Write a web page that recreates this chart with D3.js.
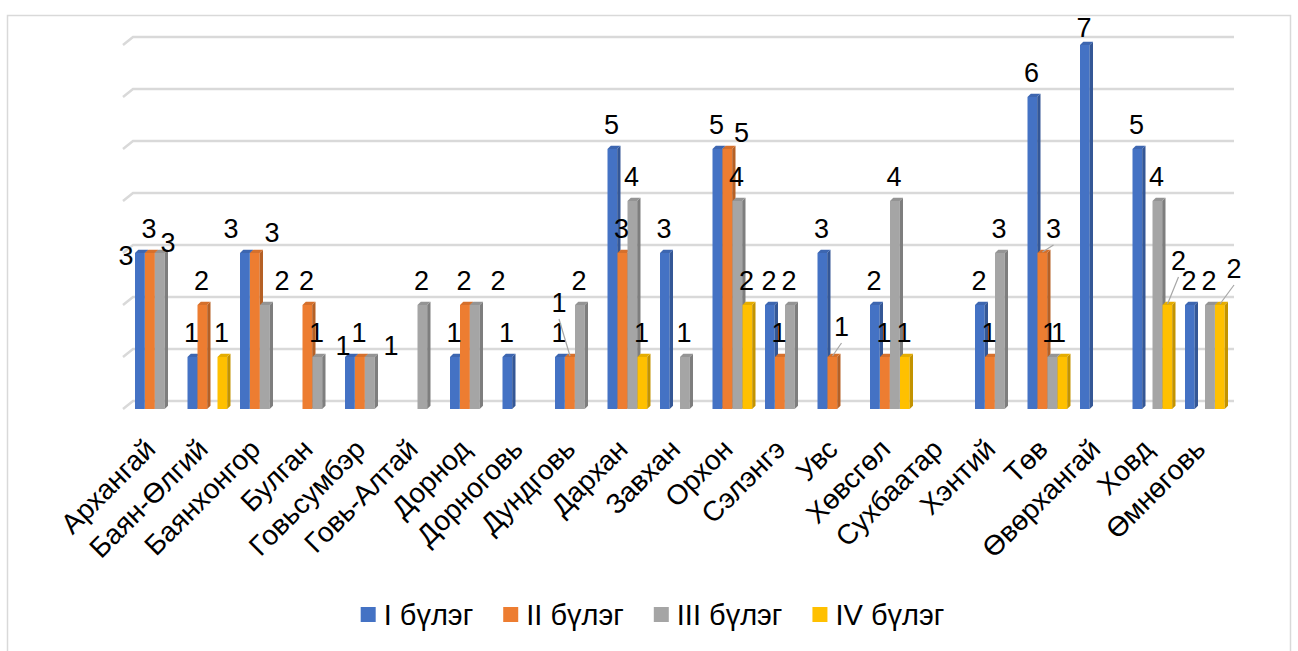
<!DOCTYPE html>
<html>
<head>
<meta charset="utf-8">
<script src="https://cdn.jsdelivr.net/npm/d3@7"></script>
<style>
  html, body { margin: 0; padding: 0; background: #ffffff; }
  svg { display: block; font-family: "Liberation Sans", Arial, sans-serif; }
</style>
</head>
<body>
<svg id="chart" width="1298" height="651"></svg>
<script>
// ---------- DATA ----------
const categories = ["Архангай","Баян-Өлгий","Баянхонгор","Булган","Говьсумбэр","Говь-Алтай","Дорнод","Дорноговь","Дундговь","Дархан","Завхан","Орхон","Сэлэнгэ","Увс","Хөвсгөл","Сухбаатар","Хэнтий","Төв","Өвөрхангай","Ховд","Өмнөговь"];
const seriesNames = ["I бүлэг","II бүлэг","III бүлэг","IV бүлэг"];
const valuesI   = [3,1,3,0,1,0,1,1,1,5,3,5,2,3,2,0,2,6,7,5,2];
const valuesII  = [3,2,3,2,1,0,2,0,1,3,0,5,1,1,1,0,1,3,0,0,0];
const valuesIII = [3,0,2,1,1,2,2,0,2,4,1,4,2,0,4,0,3,1,0,4,2];
const valuesIV  = [0,1,0,0,0,0,0,0,0,1,0,2,0,0,1,0,0,1,0,2,2];
const yTicks = [0,1,2,3,4,5,6,7];

// label nudges (pixels) for data labels that the original moved aside: [category, series, dx, dy, leader]
const labelNudges = [
  [0,0,-13,27,false],[0,2,9,14,false],
  [2,0,-13,0,false],[2,1,18,4,false],[2,2,18,0,false],
  [4,0,-6,13,false],[4,2,22,13,false],
  [6,2,24,0,false],
  [8,1,-10,-30,true],
  [11,1,15,8,false],
  [13,1,10,-6,true],
  [17,1,12,0,true],[17,2,-2,0,false],[17,3,-3,0,false],
  [18,0,0,7,false],
  [19,3,12,-20,true],
  [20,3,15,-12,true]
];

const seriesValues = [valuesI, valuesII, valuesIII, valuesIV];
const colors = ["#4472C4","#ED7D31","#A5A5A5","#FFC000"];

// ---------- SCALES ----------
const svg = d3.select("#chart");
const x = d3.scaleBand().domain(categories).range([128.75, 1231.25]).paddingInner(0).paddingOuter(0);
const xs = d3.scaleBand().domain(d3.range(seriesNames.length)).range([6.25, 46.25]);
const y = d3.scaleLinear().domain([0, 7]).range([409, 45]);

// chart border
svg.append("rect").attr("x", 7.5).attr("y", 15.5).attr("width", 1283).attr("height", 700)
  .attr("fill", "none").attr("stroke", "#d9d9d9").attr("stroke-width", 1.5);

// ---------- GRIDLINES (3D back wall) ----------
const gx0 = 123, gx1 = 133, gxEnd = 1234;
svg.append("g").selectAll("path").data(yTicks).join("path")
  .attr("d", v => `M${gx0},${y(v)} L${gx1},${y(v) - 8} H${gxEnd}`)
  .attr("fill", "none").attr("stroke", "#d9d9d9").attr("stroke-width", 2.5);

// ---------- BARS ----------
const depth = 3.3;
const bw = xs.bandwidth() - 0.3;
const bars = [];
categories.forEach((c, i) => {
  seriesValues.forEach((vals, s) => {
    if (vals[i] > 0) bars.push({c, i, s, v: vals[i]});
  });
});
const gBars = svg.append("g");
bars.forEach(b => {
  const x0 = x(b.c) + xs(b.s);
  const top = y(b.v), bot = y(0);
  const col = d3.color(colors[b.s]);
  const g = gBars.append("g");
  g.append("rect").attr("x", x0).attr("y", top).attr("width", bw).attr("height", bot - top).attr("fill", colors[b.s]);
  g.append("path")
    .attr("d", `M${x0 + bw},${top} L${x0 + bw + depth},${top - depth} L${x0 + bw + depth},${bot - depth} L${x0 + bw},${bot} Z`)
    .attr("fill", col.darker(0.75).formatHex());
  g.append("path")
    .attr("d", `M${x0},${top} L${x0 + depth},${top - depth} L${x0 + bw + depth},${top - depth} L${x0 + bw},${top} Z`)
    .attr("fill", col.darker(0.3).formatHex());
});

// ---------- DATA LABELS ----------
const labelSize = 27;
const gLab = svg.append("g");
bars.forEach(b => {
  const cx = x(b.c) + xs(b.s) + xs.bandwidth() / 2;
  let lx = cx - 1, ly = y(b.v) - 25;
  const n = labelNudges.find(d => d[0] === b.i && d[1] === b.s);
  if (n) {
    lx += n[2]; ly += n[3];
    if (n[4]) {
      gLab.append("line").attr("x1", cx).attr("y1", y(b.v) - 1).attr("x2", lx).attr("y2", ly + 17)
        .attr("stroke", "#a6a6a6").attr("stroke-width", 1.2);
    }
  }
  gLab.append("text").attr("x", lx).attr("y", ly + labelSize * 0.358)
    .attr("text-anchor", "middle").attr("font-size", labelSize).attr("fill", "#000")
    .text(b.v);
});

// ---------- CATEGORY AXIS LABELS ----------
svg.append("g").selectAll("text").data(categories).join("text")
  .attr("transform", c => `translate(${x(c) + 26.25 + 2},451) rotate(-45)`)
  .attr("text-anchor", "end").attr("font-size", 28).attr("fill", "#000")
  .text(c => c);

// ---------- LEGEND ----------
const legendSize = 29;
const gLeg = svg.append("g");
const items = seriesNames.map((name, s) => {
  const g = gLeg.append("g");
  g.append("rect").attr("width", 15).attr("height", 15).attr("y", 607).attr("fill", colors[s]);
  const t = g.append("text").attr("x", 23).attr("y", 625).attr("font-size", legendSize).attr("fill", "#000").text(name);
  return {g, w: 23 + t.node().getComputedTextLength()};
});
const gap = 30;
const total = d3.sum(items, d => d.w) + gap * (items.length - 1);
let lx0 = 652.5 - total / 2;
items.forEach(it => { it.g.attr("transform", `translate(${lx0},0)`); lx0 += it.w + gap; });
</script>
</body>
</html>
